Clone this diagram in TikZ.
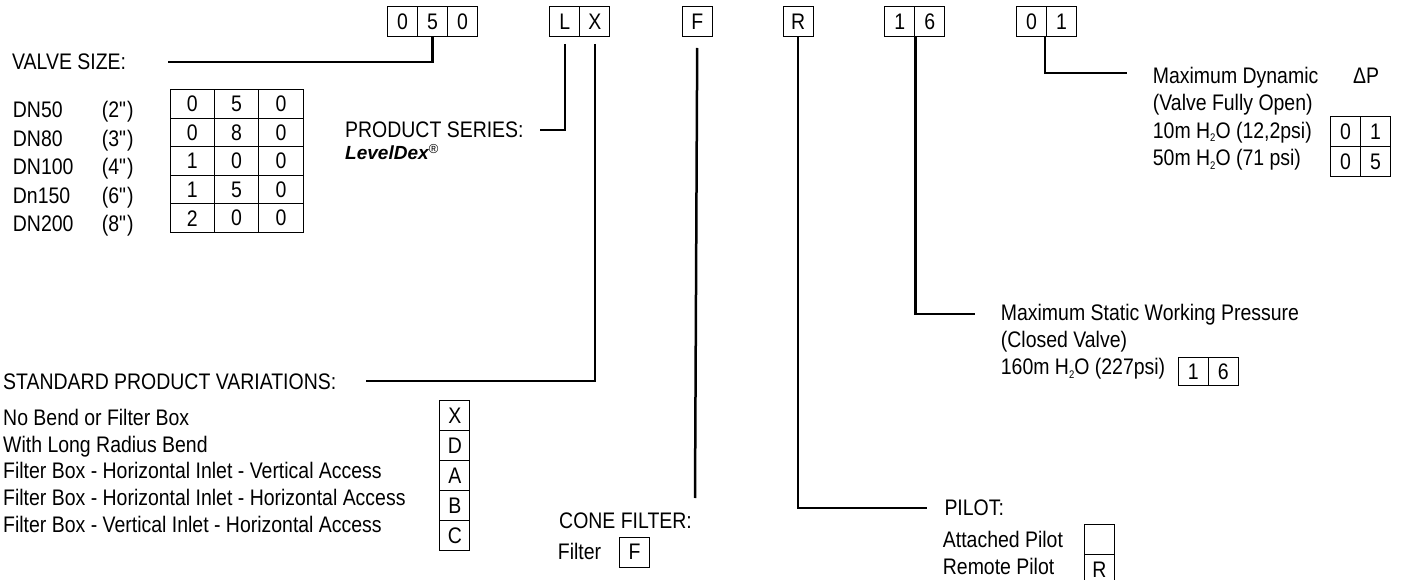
\documentclass[tikz,border=0pt]{standalone}
\usepackage{fontspec}
\setmainfont[FakeStretch=0.865]{Liberation Sans}
\newfontfamily\ldfont{Liberation Sans}
\usetikzlibrary{calc}
\newcommand{\HtwoO}{H\raisebox{-3.5pt}{\fontsize{11}{11}\selectfont 2}O}
\newcommand{\inq}{\textquotedbl}
\begin{document}
\begin{tikzpicture}[x=1pt,y=-1pt,
  font=\fontsize{22.5}{26}\selectfont,
  cell/.style={draw, line width=1pt, minimum width=30pt, minimum height=30pt, inner sep=0pt, anchor=north west},
  vcell/.style={draw, line width=1pt, minimum width=44.4pt, minimum height=28.5pt, inner sep=0pt},
  conn/.style={line width=2.5pt},
  lbl/.style={anchor=base west, inner sep=0pt}]
\useasboundingbox (0,0) rectangle (1401,580);

% top code boxes
\node[cell] (c0a) at (387,6) {0};
\node[cell] (c5) at (417,6) {5};
\node[cell] (c0b) at (447,6) {0};
\node[cell] (cL) at (549.3,6) {L};
\node[cell] (cX) at (579.3,6) {X};
\node[cell] (cF) at (681.7,6) {F};
\node[cell] (cR) at (782.7,6) {R};
\node[cell] (c16a) at (884.3,6) {1};
\node[cell] (c16b) at (914.3,6) {6};
\node[cell] (c01a) at (1016,6) {0};
\node[cell] (c01b) at (1046,6) {1};

% valve size
\node[lbl] (vs) at (12,70) {VALVE SIZE:};
\coordinate (vsend) at (168,62);
\foreach \r/\dn/\inch/\a/\b/\c in {0/DN50/2/0/5/0,1/DN80/3/0/8/0,2/DN100/4/1/0/0,3/Dn150/6/1/5/0,4/DN200/8/2/0/0} {
  \node[lbl] (dn\r) at (12.7,{118+28.5*\r}) {\dn};
  \node[lbl] (in\r) at (101.7,{118+28.5*\r}) {(\inch\inq)};
  \node[vcell] (v\r a) at (192.2,{104.25+28.5*\r}) {\a};
  \node[vcell] (v\r b) at (236.6,{104.25+28.5*\r}) {\b};
  \node[vcell] (v\r c) at (281.0,{104.25+28.5*\r}) {\c};
}
\draw[conn] (c5.south) |- (vsend);

% product series
\node[lbl] (ps) at (345,138) {PRODUCT SERIES:};
\node[lbl, font=\ldfont\fontsize{19}{22}\selectfont\bfseries\itshape] (ld) at (345,160) {LevelDex\raisebox{6.5pt}{\ldfont\fontsize{13}{13}\selectfont\mdseries\itshape ®}};
\coordinate (psend) at (540,130);
\draw[conn] ($(cL.south)+(0,7)$) |- (psend);

% standard product variations
\node[lbl] (spv) at (3,389.5) {STANDARD PRODUCT VARIATIONS:};
\coordinate (spvend) at (366,381);
\draw[conn] ($(cX.south)+(0,7)$) |- (spvend);
\foreach \i/\t/\l in {0/No Bend or Filter Box/X,1/With Long Radius Bend/D,2/Filter Box - Horizontal Inlet - Vertical Access/A,3/Filter Box - Horizontal Inlet - Horizontal Access/B,4/Filter Box - Vertical Inlet - Horizontal Access/C} {
  \node[lbl] (sv\i) at (3,{425.5+26.7*\i}) {\t};
  \node[cell] (sb\i) at (439.3,{400+30*\i}) {\l};
}

% cone filter
\coordinate (cfend) at (695,498);
\draw[conn] ($(cF.south)+(0,11)$) -- (cfend);
\node[lbl] (cf) at (559,528) {CONE FILTER:};
\node[lbl] (cff) at (557.7,559.5) {Filter};
\node[cell] (cfb) at (619,536.7) {F};

% pilot
\coordinate (pilend) at (927,508);
\draw[conn] (cR.south) |- (pilend);
\node[lbl] (pil) at (944.3,515.5) {PILOT:};
\node[lbl] (pa) at (942.7,547) {Attached Pilot};
\node[lbl] (pr) at (942.7,574) {Remote Pilot};
\node[cell] (pb1) at (1084,524) {};
\node[cell] (pb2) at (1084,554) {R};

% static pressure
\coordinate (msend) at (975,314);
\draw[conn] (c16a.south east) |- (msend);
\node[lbl] (ms1) at (1000.7,320) {Maximum Static Working Pressure};
\node[lbl] (ms2) at (1000.7,347.5) {(Closed Valve)};
\node[lbl] (ms3) at (1000.7,374.5) {160m \HtwoO{} (227psi)};
\node[cell, minimum height=28.5pt] (s1) at (1177.7,356.7) {1};
\node[cell, minimum height=28.5pt] (s6) at (1207.7,356.7) {6};

% dynamic
\coordinate (mdend) at (1127,73);
\draw[conn] ($(c01a.south east)+(-2,0)$) |- (mdend);
\node[lbl] (md1) at (1152.7,83.3) {Maximum Dynamic};
\node[lbl] (dp) at (1353,83.3) {ΔP};
\node[lbl] (md2) at (1152.7,110.8) {(Valve Fully Open)};
\node[lbl] (md3) at (1152.7,138.3) {10m \HtwoO{} (12,2psi)};
\node[lbl] (md4) at (1152.7,165.8) {50m \HtwoO{} (71 psi)};
\node[cell] (d1a) at (1330,116) {0};
\node[cell] (d1b) at (1360,116) {1};
\node[cell] (d5a) at (1330,146) {0};
\node[cell] (d5b) at (1360,146) {5};
\end{tikzpicture}
\end{document}
